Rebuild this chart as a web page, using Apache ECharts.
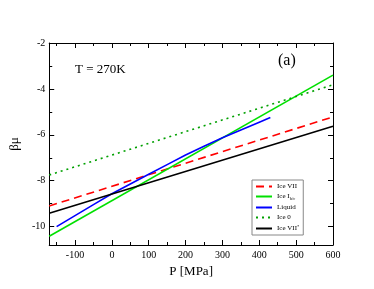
<!DOCTYPE html>
<html><head><meta charset="utf-8">
<script src="https://cdn.jsdelivr.net/npm/echarts@6/dist/echarts.min.js"></script>
<style>html,body{margin:0;padding:0;background:#fff}#c{width:374px;height:289px}</style>
</head><body><div id="c"></div>
<script>
const iceVII = [[-170, -9.1], [600, -5.22]];
const iceIhc = [[-170, -10.42], [600, -3.4]];
const liquid = [[-150, -10.0], [-100, -9.52], [-50, -9.04], [0, -8.57], [50, -8.14], [100, -7.72], [150, -7.3], [200, -6.88], [250, -6.5], [300, -6.13], [350, -5.79], [400, -5.45], [430, -5.25]];
const ice0 = [[-170, -7.75], [600, -3.82]];
const iceVIIstar = [[-170, -9.42], [600, -5.63]];
const names = ['Ice VII', 'Ice Ih/c', 'Liquid', 'Ice 0', 'Ice VII*'];

const F = 'Liberation Serif';
const chart = echarts.init(document.getElementById('c'), null, {renderer: 'canvas'});
const grid = {left: 43, right: 41, top: 43, bottom: 44};
function axisCommon() {
  return {
    axisLine: {show: true, onZero: false, lineStyle: {color: '#000', width: 1}},
    axisTick: {show: true, inside: true, length: 5, lineStyle: {color: '#000'}},
    minorTick: {show: true, splitNumber: 2, length: 3, lineStyle: {color: '#000'}},
    splitLine: {show: false}
  };
}
function mk(name, data, color, type) {
  return {name, type: 'line', data, showSymbol: false, symbol: 'none',
    lineStyle: {color, width: 1.6, type: type}, itemStyle: {color}, z: 3};
}
chart.setOption({
  animation: false,
  grid,
  xAxis: [
    Object.assign({type: 'value', min: -170, max: 600, minInterval: 100, maxInterval: 100, position: 'bottom',
      name: 'P [MPa]', nameLocation: 'middle', nameGap: 17,
      nameTextStyle: {fontFamily: F, fontSize: 13, color: '#000'},
      axisLabel: {fontFamily: F, fontSize: 10, color: '#000', margin: 5, showMinLabel: false}}, axisCommon()),
    Object.assign({type: 'value', min: -170, max: 600, minInterval: 100, maxInterval: 100, position: 'top',
      axisLabel: {show: false}}, axisCommon())
  ],
  yAxis: [
    Object.assign({type: 'value', min: -10.8, max: -2, minInterval: 2, maxInterval: 2, position: 'left',
      name: 'βμ', nameLocation: 'middle', nameGap: 26, nameRotate: 90,
      nameTextStyle: {fontFamily: F, fontSize: 13, color: '#000'},
      axisLabel: {fontFamily: F, fontSize: 10, color: '#000', margin: 4, showMinLabel: false}}, axisCommon()),
    Object.assign({type: 'value', min: -10.8, max: -2, minInterval: 2, maxInterval: 2, position: 'right',
      axisLabel: {show: false}}, axisCommon())
  ],
  legend: {
    data: names, orient: 'vertical', left: 252, top: 180, padding: [3, 4, 3, 3],
    itemWidth: 16, itemHeight: 8, itemGap: 3,
    itemStyle: {opacity: 0, borderWidth: 0},
    backgroundColor: '#fff', borderColor: '#888', borderWidth: 1,
    textStyle: {fontFamily: F, fontSize: 7, color: '#000',
      rich: {sub: {fontFamily: F, fontSize: 4.5, verticalAlign: 'bottom', padding: [4, 0, 0, 0]},
             sup: {fontFamily: F, fontSize: 4.5, verticalAlign: 'top', padding: [0, 0, 4, 0]}}},
    formatter: function (n) {
      if (n === 'Ice Ih/c') return 'Ice I{sub|h/c}';
      if (n === 'Ice VII*') return 'Ice VII{sup|*}';
      return n;
    }
  },
  graphic: [
    {type: 'text', left: 75, top: 63, style: {text: 'T = 270K', fontFamily: F, fontSize: 13, fill: '#000'}},
    {type: 'text', left: 278, top: 53, style: {text: '(a)', fontFamily: F, fontSize: 16, fill: '#000'}}
  ],
  series: [
    mk('Ice VII', iceVII, '#ff0000', [8, 5]),
    mk('Ice Ih/c', iceIhc, '#00e000', 'solid'),
    mk('Liquid', liquid, '#0000ff', 'solid'),
    mk('Ice 0', ice0, '#00a000', [2, 4]),
    mk('Ice VII*', iceVIIstar, '#000000', 'solid')
  ]
});
</script></body></html>
